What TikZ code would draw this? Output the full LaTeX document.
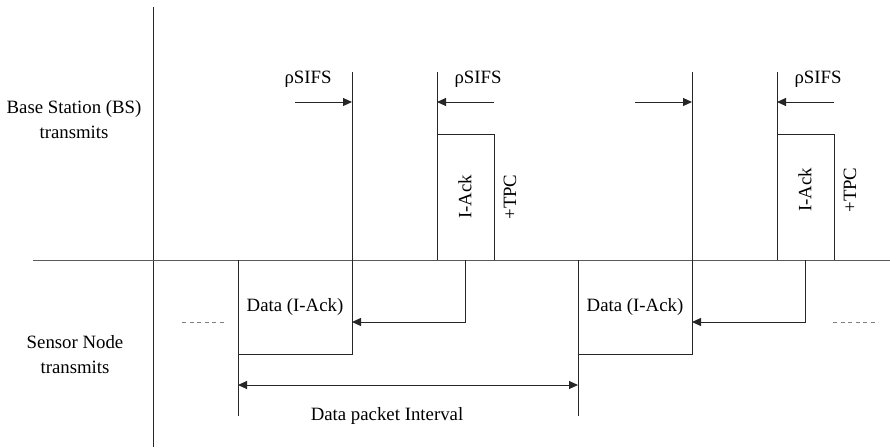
\documentclass[tikz,border=0pt]{standalone}
\usepackage{fontspec}
\setmainfont{Liberation Serif}
\usetikzlibrary{positioning}
\usetikzlibrary{arrows.meta}
\tikzset{x=1pt, y=-1pt,
lbl/.style={
font=\fontsize{18.8}{25}\selectfont,
inner sep=0pt,
align=center},
line/.style={
draw,
line width=1pt,
black!85},
tip/.style={
line,
-{Triangle[length=9pt,width=8pt]}},
dots/.style={
draw,
line width=0.8pt,
gray,
dash pattern=on 4pt off 3.5pt}}

\begin{document}
\begin{tikzpicture}
\useasboundingbox (0,0) rectangle (890,447);
% axes
\coordinate (axtop) at (153,7);
\coordinate (axbot) at (153,447);
\coordinate (bl) at (33,260);
\coordinate (br) at (890,260);
\draw[line] (axtop) -- (axbot);
\draw[line, gray!70!black] (bl) -- (br);
\node[lbl] (bs) at (74,120) {Base Station (BS)\\transmits};
\node[lbl] (sn) at (75,355) {Sensor Node\\transmits};
% two periods of the exchange
\foreach \o/\n/\dy in {0/1/0, 340/2/-7} {
\begin{scope}[xshift=\o]
\coordinate (dt\n) at (238,260);
\coordinate (dl\n) at (238,416);
\coordinate (db\n) at (238,354);
\coordinate (dtop\n) at (352,72);
\coordinate (al\n) at (437,72);
\coordinate (ab\n) at (437,260);
\coordinate (at\n) at (437,134);
\coordinate (ar\n) at (494,260);
\coordinate (fb\n) at (465,260);
\coordinate (dm\n) at (352,322);
\coordinate (sa\n) at (295,102);
\coordinate (sb\n) at (494,102);
\draw[line] (dt\n) -- (dl\n);
\draw[line] (db\n) -| (dtop\n);
\draw[line] (al\n) -- (ab\n);
\draw[line] (at\n) -| (ar\n);
\node[lbl] (data\n) at (295,307) {Data (I-Ack)};
\node[lbl, rotate=90] (ack\n) at (465,197+\dy) {I-Ack};
\node[lbl, rotate=90] (tpc\n) at (510,197+\dy) {+TPC};
\draw[tip] (fb\n) |- (dm\n);
\draw[tip] (sa\n) -- (sa\n -| dtop\n);
\draw[tip] (sb\n) -- (sb\n -| al\n);
\end{scope}
}
\node[lbl] (sifs1) at (308,79) {ρSIFS};
\node[lbl] (sifs2) at (478,79) {ρSIFS};
\node[lbl] (sifs3) at (818,79) {ρSIFS};
% data packet interval
\coordinate (iv1) at (238,385);
\coordinate (iv2) at (578,385);
\draw[tip, {Triangle[length=9pt,width=8pt]}-{Triangle[length=9pt,width=8pt]}] (iv1) -- (iv2);
\node[lbl] (ivl) at (387,416) {Data packet Interval};
% continuation dots
\coordinate (la) at (182,322);
\coordinate (lb) at (226,322);
\coordinate (ra) at (833,322);
\coordinate (rb) at (878,322);
\draw[dots] (la) -- (lb);
\draw[dots] (ra) -- (rb);
\end{tikzpicture}
\end{document}
